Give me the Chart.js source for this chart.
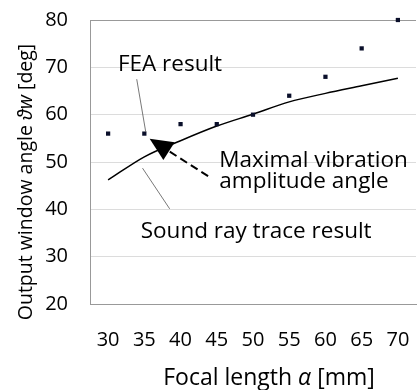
<!DOCTYPE html>
<html><head><meta charset="utf-8">
<script src="https://cdn.jsdelivr.net/npm/chart.js@4.4.0/dist/chart.umd.min.js"></script>
<style>html,body{margin:0;padding:0;background:#fff}#wrap{width:420px;height:390px}</style>
</head><body><div id="wrap"><canvas id="c" width="420" height="390"></canvas></div>
<script>
const focalLengths = ['30','35','40','45','50','55','60','65','70'];
const feaResult = [56, 56, 58, 58, 60, 64, 68, 74, 80];
const rayTrace = [46.2, 51.1, 54.5, 57.6, 60.1, 62.7, 64.5, 66.1, 67.7];
const yTicks = [20, 30, 40, 50, 60, 70, 80];

const FONT = '"Open Sans", sans-serif';
const TICK_FS = 20, ANN_FS = 22.5, XT_FS = 23, YT_FS = 19.5;

const annot = {
  id: 'annot',
  afterDraw(chart) {
    const ctx = chart.ctx, x = chart.scales.x, y = chart.scales.y;
    const P = (i, v) => [x.getPixelForValue(i), y.getPixelForValue(v)];
    ctx.save();
    ctx.strokeStyle = '#555'; ctx.lineWidth = 0.8;
    const seg = (a, b) => { ctx.beginPath(); ctx.moveTo(...a); ctx.lineTo(...b); ctx.stroke(); };
    seg(P(0.79, 67.5), P(1.04, 56.3));
    seg(P(0.95, 48.7), P(1.70, 40.1));
    const tip = P(1.147, 54.9), tail = P(2.76, 47.0);
    const ang = Math.atan2(tip[1] - tail[1], tip[0] - tail[0]);
    const hl = 23, hw = 10.5;
    const base = [tip[0] - hl * Math.cos(ang), tip[1] - hl * Math.sin(ang)];
    ctx.strokeStyle = '#000'; ctx.lineWidth = 2; ctx.setLineDash([8, 4.5]);
    seg(tail, base);
    ctx.setLineDash([]);
    ctx.fillStyle = '#000';
    ctx.beginPath();
    ctx.moveTo(...tip);
    ctx.lineTo(base[0] + hw * Math.sin(ang), base[1] - hw * Math.cos(ang));
    ctx.lineTo(base[0] - hw * Math.sin(ang), base[1] + hw * Math.cos(ang));
    ctx.closePath(); ctx.fill();
    ctx.fillStyle = '#000'; ctx.font = ANN_FS + 'px ' + FONT; ctx.textBaseline = 'middle'; ctx.textAlign = 'left';
    let p = P(0.27, 70.5); ctx.fillText('FEA result', p[0], p[1]);
    p = P(0.9, 35.4); ctx.fillText('Sound ray trace result', p[0], p[1]);
    p = P(3.07, 50.2); ctx.fillText('Maximal vibration', p[0], p[1]);
    p = P(3.07, 45.8); ctx.fillText('amplitude angle', p[0], p[1]);
    const drawMixed = (parts, fs, cx, cy, rot) => {
      ctx.save(); ctx.translate(cx, cy); ctx.rotate(rot);
      let w = 0;
      parts.forEach(s => { ctx.font = (s[1] ? 'italic ' : '') + fs + 'px ' + FONT; w += ctx.measureText(s[0]).width; });
      let xx = -w / 2;
      parts.forEach(s => { ctx.font = (s[1] ? 'italic ' : '') + fs + 'px ' + FONT; ctx.fillText(s[0], xx, 0); xx += ctx.measureText(s[0]).width; });
      ctx.restore();
    };
    const ca = chart.chartArea;
    drawMixed([['Output window angle ', 0], ['ϑw', 1], [' [deg]', 0]], YT_FS, ca.left - 64, ca.top + 162, -Math.PI / 2);
    drawMixed([['Focal length ', 0], ['α', 1], [' [mm]', 0]], XT_FS, ca.left + 179, ca.bottom + 74, 0);
    ctx.restore();
  }
};

new Chart(document.getElementById('c'), {
  type: 'line',
  data: {
    labels: focalLengths,
    datasets: [
      { label: 'FEA result', data: feaResult, showLine: false, pointStyle: 'rect', pointRadius: 3,
        backgroundColor: '#0a0f2a', borderColor: '#0a0f2a', borderWidth: 0, clip: false },
      { label: 'Sound ray trace result', data: rayTrace, borderColor: '#000', borderWidth: 1.5,
        pointRadius: 0, cubicInterpolationMode: 'monotone', fill: false }
    ]
  },
  options: {
    responsive: false, animation: false, devicePixelRatio: 1,
    layout: { padding: { top: 20, right: 2, left: 0, bottom: 0 } },
    plugins: { legend: { display: false }, tooltip: { enabled: false } },
    scales: {
      x: {
        offset: true,
        grid: { display: false },
        border: { display: true, color: '#999', width: 1 },
        ticks: { color: '#000', font: { family: FONT, size: TICK_FS }, padding: 16, maxRotation: 0 },
        afterFit(s) { s.height = 86; s.paddingLeft = 0; s.paddingRight = 0; }
      },
      y: {
        min: 20, max: 80,
        afterBuildTicks(s) { s.ticks = yTicks.map(v => ({ value: v })); },
        grid: { drawTicks: false, color: c => (c.tick && c.tick.value === 80) ? '#999' : '#dcdcdc', lineWidth: 1 },
        border: { display: true, color: '#999', width: 1 },
        ticks: { color: '#000', font: { family: FONT, size: TICK_FS }, padding: 22 },
        afterFit(s) { s.width = 90; s.paddingTop = 0; s.paddingBottom = 0; }
      }
    }
  },
  plugins: [annot]
});
</script></body></html>
